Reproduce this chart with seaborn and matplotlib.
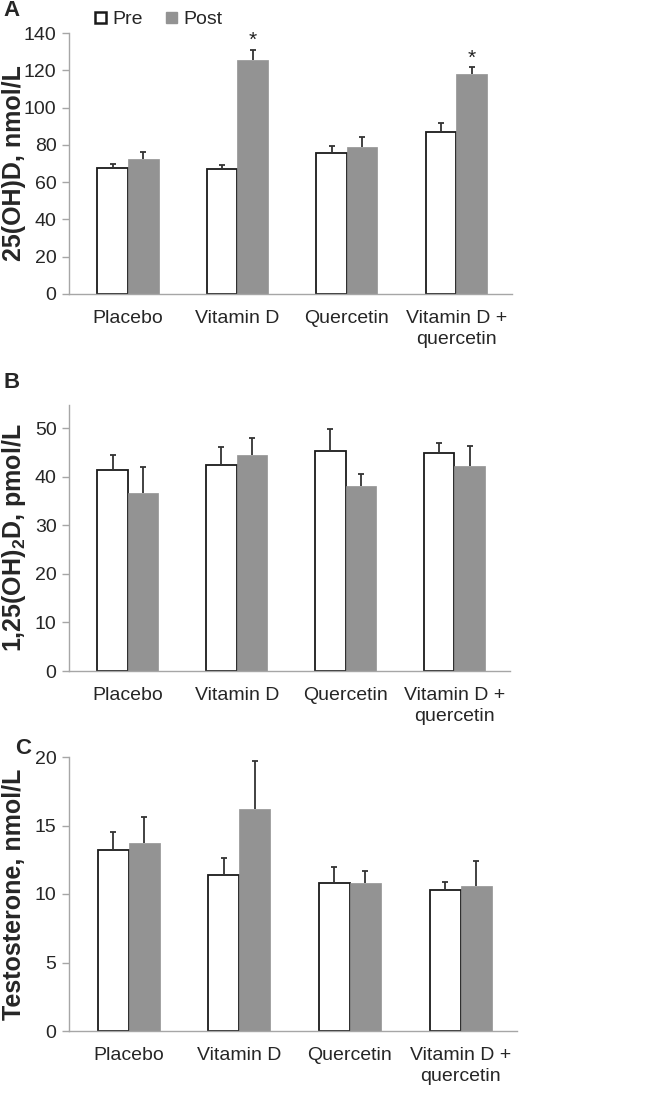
import numpy as np
import pandas as pd
import seaborn as sns
import matplotlib.pyplot as plt
from matplotlib.patches import Patch

groups = ["Placebo", "Vitamin D", "Quercetin", "Vitamin D +\nquercetin"]
times = ["Pre", "Post"]

# panel A: 25(OH)D
ohd_pre = [67.5, 67.0, 75.5, 87.0]
ohd_post = [72.5, 125.5, 79.0, 118.0]
ohd_pre_err = [2.0, 2.0, 4.0, 4.5]
ohd_post_err = [3.5, 5.5, 5.0, 3.5]
ohd_star = [False, True, False, True]

# panel B: 1,25(OH)2D
dih_pre = [41.5, 42.4, 45.3, 44.9]
dih_post = [36.7, 44.6, 38.1, 42.2]
dih_pre_err = [3.1, 3.7, 4.5, 2.1]
dih_post_err = [5.3, 3.3, 2.4, 4.2]

# panel C: testosterone
tes_pre = [13.2, 11.4, 10.8, 10.3]
tes_post = [13.7, 16.2, 10.8, 10.6]
tes_pre_err = [1.3, 1.2, 1.2, 0.6]
tes_post_err = [1.9, 3.5, 0.9, 1.8]

sns.set_style("white")
plt.rcParams['font.family'] = ['Liberation Sans Narrow', 'Liberation Sans', 'DejaVu Sans']
plt.rcParams['mathtext.fontset'] = 'custom'
plt.rcParams['mathtext.rm'] = 'Liberation Sans:bold'

POST_GREY = '#939393'
SPINE = '#a6a6a6'


def panel(ax, pre, post, pre_err, post_err, ymax, step, ylabel, stars=None, ylim_top=None):
    df = pd.DataFrame({
        'group': groups * 2,
        'time': ['Pre'] * 4 + ['Post'] * 4,
        'value': list(pre) + list(post),
    })
    sns.barplot(data=df, x='group', y='value', hue='time', order=groups,
                hue_order=times, palette={'Pre': 'white', 'Post': POST_GREY},
                width=0.56, gap=0, errorbar=None, legend=False, ax=ax)
    errs = [pre_err, post_err]
    bar_conts = list(ax.containers)[:2]
    for i, cont in enumerate(bar_conts):
        xs, ys = [], []
        for p in cont.patches:
            if i == 0:
                p.set_edgecolor('#1a1a1a')
                p.set_linewidth(1.3)
            else:
                p.set_edgecolor(POST_GREY)
                p.set_linewidth(0.5)
            xs.append(p.get_x() + p.get_width() / 2)
            ys.append(p.get_height())
        e = np.array(errs[i])
        _, caps, _ = ax.errorbar(xs, ys, yerr=[np.zeros_like(e), e], fmt='none',
                                 ecolor='#333333', elinewidth=1.3, capsize=2.5,
                                 capthick=1.3, zorder=1)
        caps[0].set_visible(False)
        if i == 1 and stars is not None:
            for x, y, er, s in zip(xs, ys, e, stars):
                if s:
                    ax.text(x, y + er, '*', ha='center', va='bottom',
                            fontsize=15, color='#222222', family='Liberation Sans')
    ax.set_ylim(0, ylim_top if ylim_top else ymax)
    ax.set_yticks(np.arange(0, ymax + 0.1, step))
    ax.set_xlim(-0.54, 3.51)
    ax.set_xlabel('')
    ax.set_ylabel('')
    sns.despine(ax=ax)
    for s in ['left', 'bottom']:
        ax.spines[s].set_color(SPINE)
        ax.spines[s].set_linewidth(1.0)
    ax.tick_params(axis='y', length=5, color=SPINE, width=1.0, labelsize=14, pad=4,
                   direction='out', left=True)
    ax.tick_params(axis='x', length=0, labelsize=14, pad=11.5)
    for lab in ax.get_xticklabels():
        lab.set_linespacing(1.3)
    pos = ax.get_position()
    fig.text(14 / 646, (pos.y0 + pos.y1) / 2, ylabel, rotation=90, ha='center',
             va='center', fontsize=18, fontweight='bold', family='Liberation Sans')


fig = plt.figure(figsize=(6.46, 10.93), dpi=100)
axA = fig.add_axes([69 / 646, 1 - 294 / 1093, 443 / 646, 261 / 1093])
axB = fig.add_axes([69 / 646, 1 - 671 / 1093, 441 / 646, 266 / 1093])
axC = fig.add_axes([69 / 646, 1 - 1031 / 1093, 448 / 646, 274 / 1093])

panel(axA, ohd_pre, ohd_post, ohd_pre_err, ohd_post_err, 140, 20,
      '25(OH)D, nmol/L', stars=ohd_star)
panel(axB, dih_pre, dih_post, dih_pre_err, dih_post_err, 50, 10,
      r'1,25(OH)$_\mathregular{2}$D, pmol/L', ylim_top=54.8)
panel(axC, tes_pre, tes_post, tes_pre_err, tes_post_err, 20, 5,
      'Testosterone, nmol/L')

handles = [Patch(facecolor='white', edgecolor='#1a1a1a', linewidth=1.8, label='Pre'),
           Patch(facecolor=POST_GREY, edgecolor=POST_GREY, label='Post')]
fig.legend(handles=handles, loc='center left', bbox_to_anchor=(95 / 646, 1 - 20 / 1093),
           ncol=2, frameon=False, fontsize=14, handlelength=0.55, handleheight=0.55,
           handletextpad=0.35, columnspacing=1.2, borderaxespad=0, borderpad=0)

fig.text(11 / 646, 1 - 11 / 1093, 'A', fontsize=16, fontweight='bold',
         family='Liberation Sans', ha='center', va='center')
fig.text(12 / 646, 1 - 382 / 1093, 'B', fontsize=16, fontweight='bold',
         family='Liberation Sans', ha='center', va='center')
fig.text(23 / 646, 1 - 748 / 1093, 'C', fontsize=16, fontweight='bold',
         family='Liberation Sans', ha='center', va='center')

fig.savefig('out.png', dpi=100)
